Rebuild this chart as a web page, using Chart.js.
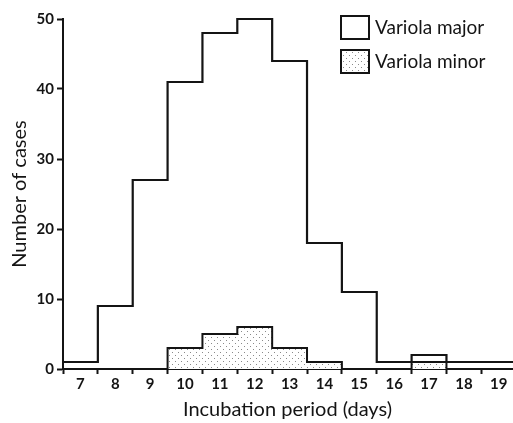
<!DOCTYPE html>
<html>
<head>
<meta charset="utf-8">
<script src="https://cdn.jsdelivr.net/npm/chart.js@4/dist/chart.umd.min.js"></script>
<style>
  html, body { margin: 0; padding: 0; background: #fff; }
  #wrap { width: 513px; height: 423px; }
</style>
</head>
<body>
<div id="wrap"><canvas id="histChart" width="513" height="423"></canvas></div>
<script>
// ---- data ----
const days = [7, 8, 9, 10, 11, 12, 13, 14, 15, 16, 17, 18, 19];
const variolaMajor = [1, 9, 27, 41, 48, 50, 44, 18, 11, 1, 2, 1, 1];
const variolaMinor = [0, 0, 0, 3, 5, 6, 3, 1, 0, 0, 1, 0, 0];
const yTicks = [0, 10, 20, 30, 40, 50];
const seriesNames = ['Variola major', 'Variola minor'];

const INK = '#141414';
const FONT = 'Lato, "Open Sans", sans-serif';

// turn per-day counts into a step outline on the bin edges
function toSteps(values) {
    const pts = days.map((d, i) => ({ x: d - 0.5, y: values[i] }));
    const last = days.length - 1;
    pts.push({ x: days[last] + 0.5, y: values[last] });
    return pts;
}

// stippled fill for the minor series
function dotPattern() {
    const c = document.createElement('canvas');
    c.width = 6;
    c.height = 6;
    const g = c.getContext('2d');
    g.fillStyle = '#fff';
    g.fillRect(0, 0, 6, 6);
    g.fillStyle = '#8a8a8a';
    g.fillRect(1, 1, 1, 1);
    g.fillRect(4, 4, 1, 1);
    return g.createPattern(c, 'repeat');
}
const dots = dotPattern();

// legend drawn at the top right, as boxes with labels
const boxLegend = {
    id: 'boxLegend',
    afterDraw(chart) {
        const ctx = chart.ctx;
        const rows = [
            { fill: '#fff', y: 16 },
            { fill: dots, y: 50 }
        ];
        ctx.save();
        ctx.font = '19px ' + FONT;
        ctx.textBaseline = 'middle';
        rows.forEach((r, i) => {
            ctx.fillStyle = r.fill;
            ctx.fillRect(341, r.y, 28, 23);
            ctx.strokeStyle = INK;
            ctx.lineWidth = 2;
            ctx.strokeRect(341, r.y, 28, 23);
            ctx.fillStyle = INK;
            ctx.fillText(seriesNames[i], 375, r.y + 12);
        });
        ctx.restore();
    }
};

const ctx = document.getElementById('histChart').getContext('2d');

new Chart(ctx, {
    type: 'line',
    data: {
        datasets: [
            {
                label: seriesNames[0],
                data: toSteps(variolaMajor),
                stepped: 'before',
                borderColor: INK,
                borderWidth: 2.2,
                pointRadius: 0,
                fill: false,
                clip: false
            },
            {
                label: seriesNames[1],
                data: toSteps(variolaMinor),
                stepped: 'before',
                borderColor: INK,
                borderWidth: 2,
                pointRadius: 0,
                backgroundColor: dots,
                fill: 'origin',
                clip: false
            }
        ]
    },
    options: {
        responsive: false,
        animation: false,
        events: [],
        layout: {
            padding: { top: 19, right: 1, left: 0, bottom: 0 }
        },
        scales: {
            x: {
                type: 'linear',
                min: 6.5,
                max: 19.38,
                afterBuildTicks(scale) {
                    const t = [];
                    days.forEach(d => {
                        t.push({ value: d - 0.5 });
                        t.push({ value: d });
                    });
                    scale.ticks = t;
                },
                afterFit(scale) {
                    scale.height = 54;
                },
                border: { color: INK, width: 2 },
                grid: {
                    drawOnChartArea: false,
                    tickLength: 5,
                    tickWidth: 2,
                    tickColor: c => Number.isInteger(c.tick.value) ? 'rgba(0,0,0,0)' : INK
                },
                ticks: {
                    autoSkip: false,
                    maxRotation: 0,
                    padding: 1,
                    color: INK,
                    font: { family: FONT, size: 15, weight: 'bold' },
                    callback: v => Number.isInteger(v) ? String(v) : ''
                },
                title: {
                    display: true,
                    text: 'Incubation period (days)',
                    color: INK,
                    font: { family: FONT, size: 20 },
                    padding: { top: 0, bottom: 1 }
                }
            },
            y: {
                min: 0,
                max: 50,
                afterBuildTicks(scale) {
                    scale.ticks = yTicks.map(v => ({ value: v }));
                },
                afterFit(scale) {
                    scale.width = 63;
                },
                border: { color: INK, width: 2 },
                grid: {
                    drawOnChartArea: false,
                    tickLength: 6,
                    tickWidth: 2,
                    tickColor: INK
                },
                ticks: {
                    padding: 3,
                    color: INK,
                    font: { family: FONT, size: 15, weight: 'bold' }
                },
                title: {
                    display: true,
                    text: 'Number of cases',
                    color: INK,
                    font: { family: FONT, size: 20 },
                    padding: { top: 8, bottom: 0 }
                }
            }
        },
        plugins: {
            legend: { display: false },
            tooltip: { enabled: false }
        }
    },
    plugins: [boxLegend]
});
</script>
</body>
</html>
